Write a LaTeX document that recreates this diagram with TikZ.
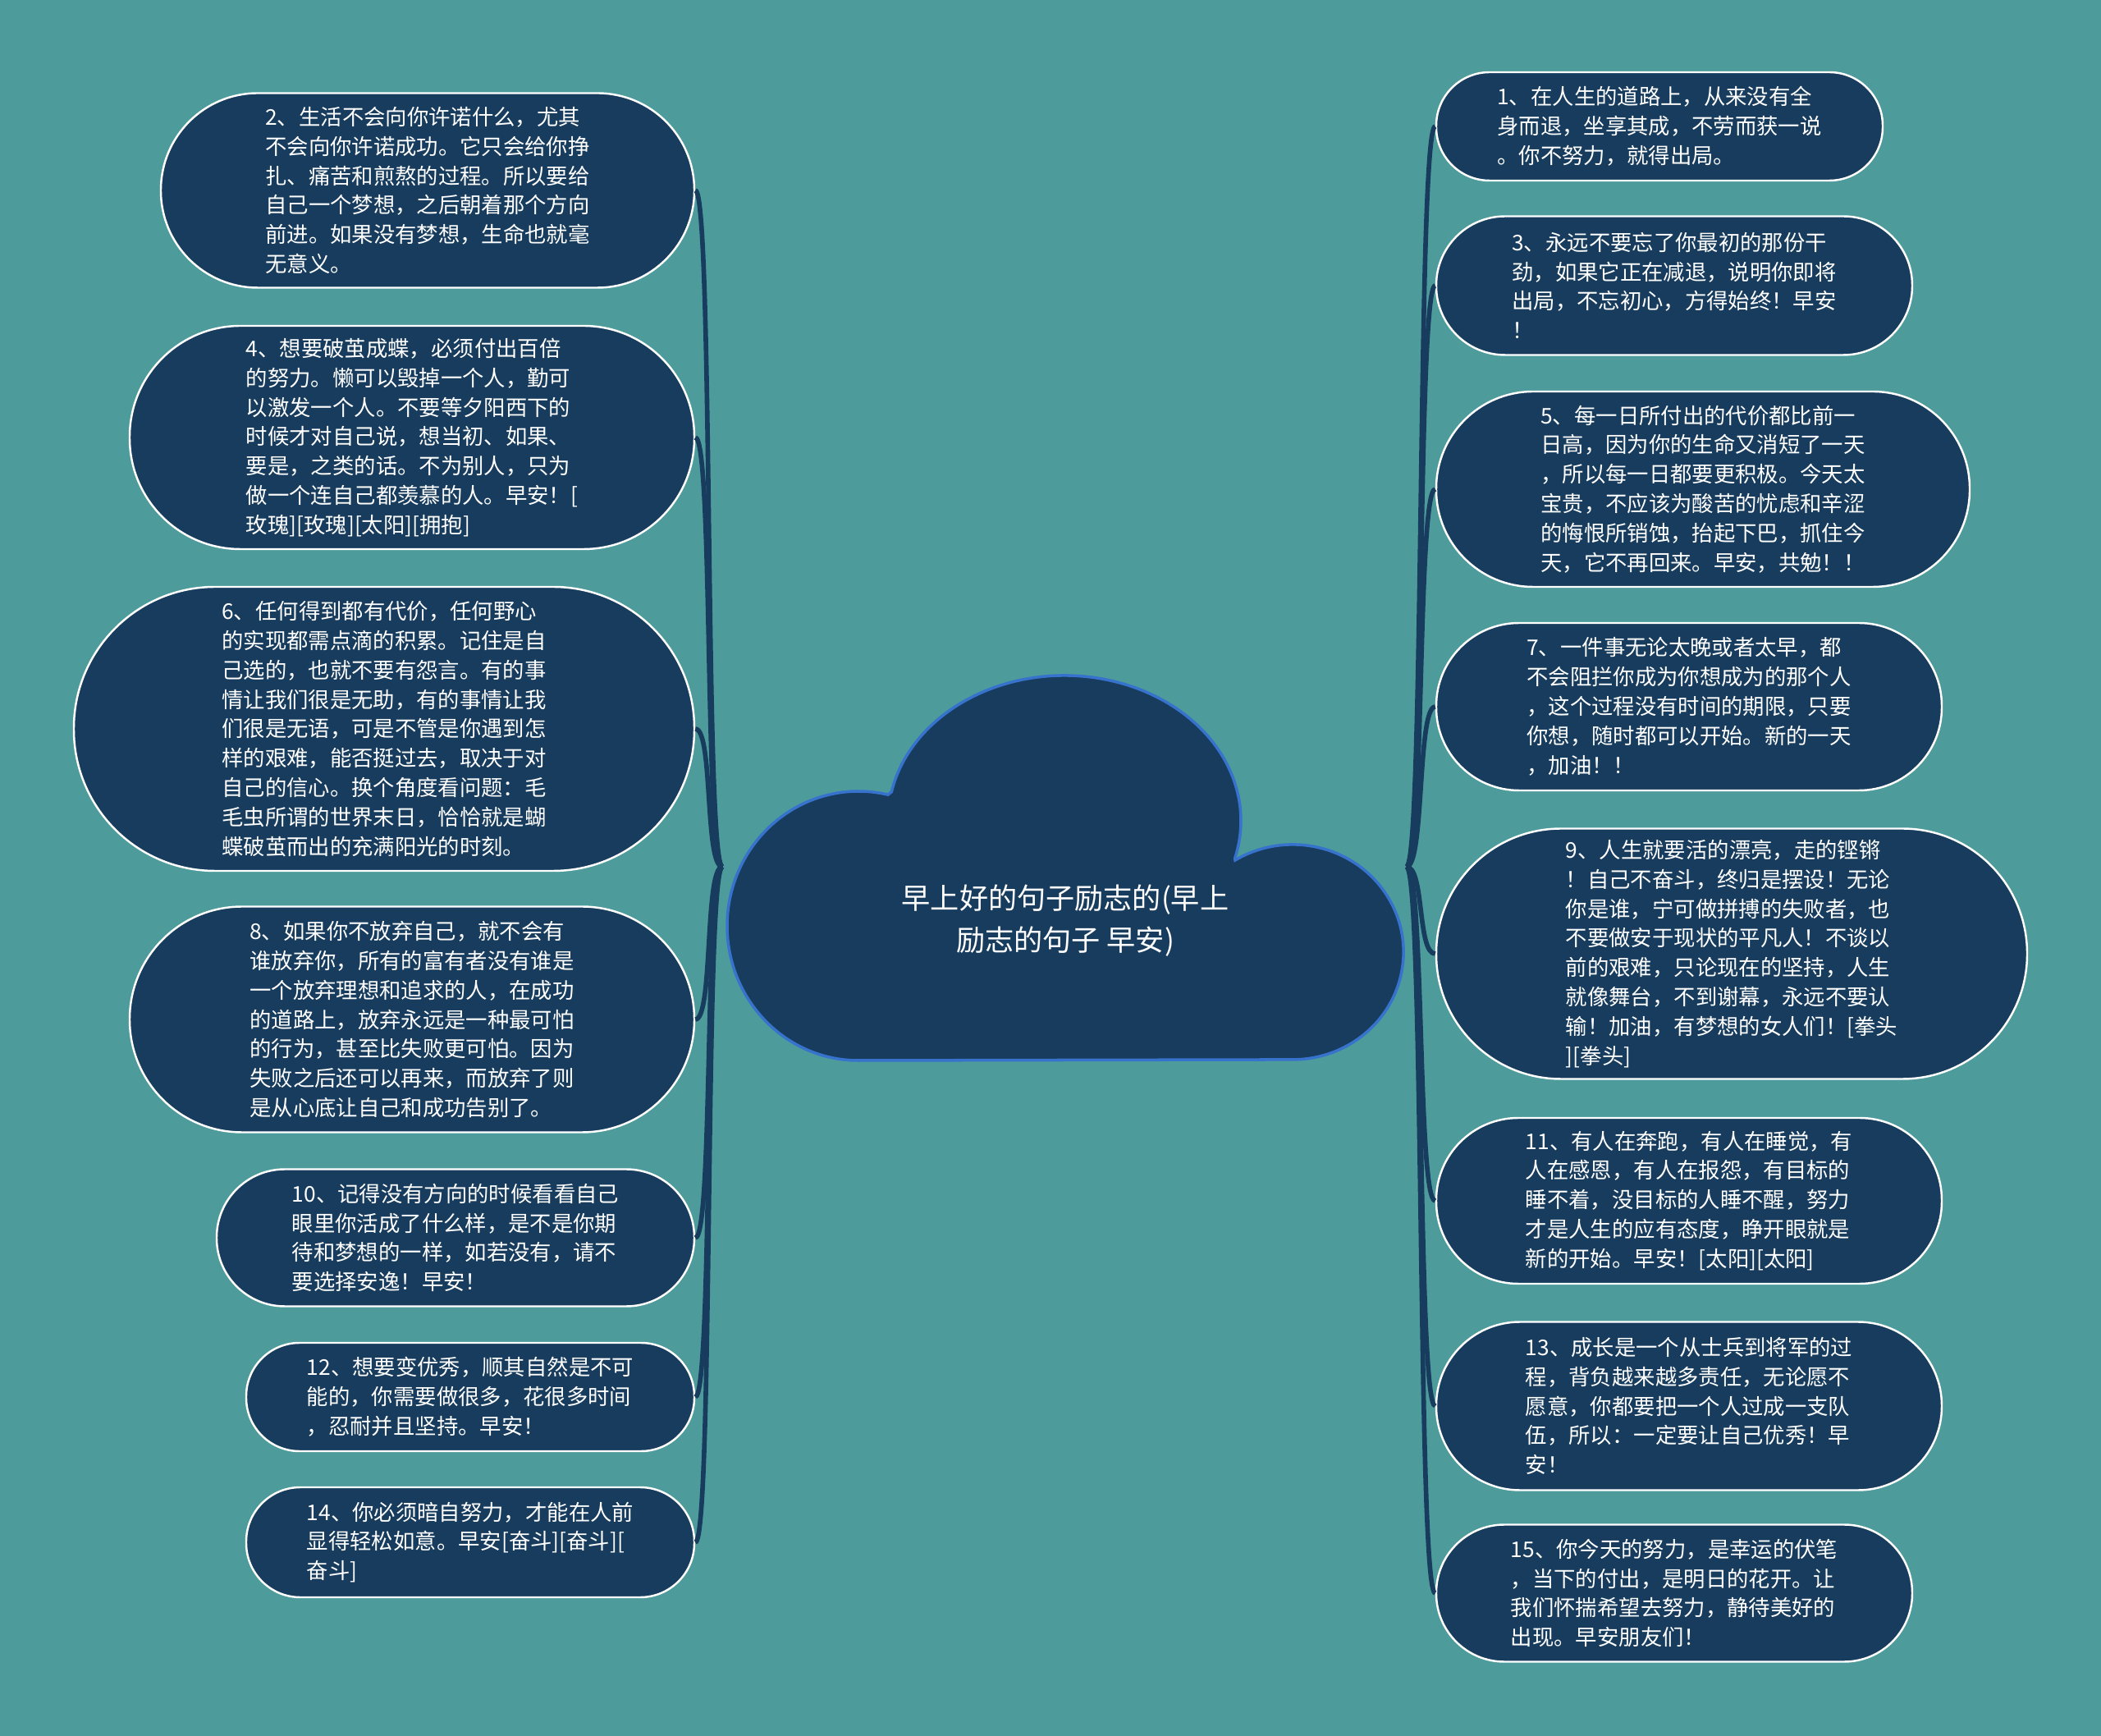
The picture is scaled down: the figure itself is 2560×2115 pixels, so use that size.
\documentclass[tikz,border=0pt]{standalone}
\usepackage{fontspec}
\setmainfont{Noto Sans CJK SC}
\definecolor{bgteal}{RGB}{78,155,155}
\definecolor{navy}{RGB}{23,60,93}
\definecolor{cloudline}{RGB}{55,115,205}
\tikzset{
  box/.style={draw=white, line width=0.7pt, fill=navy, text=white, inner sep=0pt,
    align=left, font={\fontsize{7.5pt}{10.2pt}\selectfont}},
  conn/.style={draw=navy, line width=1.6pt},
}
\begin{document}
\begin{tikzpicture}[x=0.1mm, y=-0.1mm]
\useasboundingbox (0,0) rectangle (2560,2115);
\fill[bgteal] (0,0) rectangle (2560,2115);

% cloud
\filldraw[fill=navy, draw=cloudline, line width=1pt]
  (1046,1292) arc[start angle=90, end angle=283, x radius=160, y radius=164]
  -- (1086.3,964.7) arc[start angle=191.5, end angle=375, x radius=215, y radius=177]
  -- (1505,1048) arc[start angle=238.7, end angle=450, x radius=135, y radius=131]
  -- cycle;
\node[inner sep=0pt, minimum width=83.2mm, minimum height=47.1mm] (root) at (1297,1056) {};
\node[text=white, align=center, font={\fontsize{10pt}{14.5pt}\selectfont}] (roottext) at (1298,1122)
  {早上好的句子励志的(早上\\励志的句子 早安)};

% left nodes
\node[box, minimum width=65.0mm, minimum height=23.7mm, rounded corners=11.8mm] (n2) at (521,232)
{2、生活不会向你许诺什么，尤其\\不会向你许诺成功。它只会给你挣\\扎、痛苦和煎熬的过程。所以要给\\自己一个梦想，之后朝着那个方向\\前进。如果没有梦想，生命也就毫\\无意义。};
\node[box, minimum width=68.8mm, minimum height=27.2mm, rounded corners=13.5mm] (n4) at (502,533)
{4、想要破茧成蝶，必须付出百倍\\的努力。懒可以毁掉一个人，勤可\\以激发一个人。不要等夕阳西下的\\时候才对自己说，想当初、如果、\\要是，之类的话。不为别人，只为\\做一个连自己都羡慕的人。早安！[\\玫瑰][玫瑰][太阳][拥抱]};
\node[box, minimum width=75.6mm, minimum height=34.6mm, rounded corners=17.2mm] (n6) at (468,888)
{6、任何得到都有代价，任何野心\\的实现都需点滴的积累。记住是自\\己选的，也就不要有怨言。有的事\\情让我们很是无助，有的事情让我\\们很是无语，可是不管是你遇到怎\\样的艰难，能否挺过去，取决于对\\自己的信心。换个角度看问题：毛\\毛虫所谓的世界末日，恰恰就是蝴\\蝶破茧而出的充满阳光的时刻。};
\node[box, minimum width=68.8mm, minimum height=27.5mm, rounded corners=13.7mm] (n8) at (502,1242)
{8、如果你不放弃自己，就不会有\\谁放弃你，所有的富有者没有谁是\\一个放弃理想和追求的人，在成功\\的道路上，放弃永远是一种最可怕\\的行为，甚至比失败更可怕。因为\\失败之后还可以再来，而放弃了则\\是从心底让自己和成功告别了。};
\node[box, minimum width=58.2mm, minimum height=16.7mm, rounded corners=8.3mm] (n10) at (555,1508)
{10、记得没有方向的时候看看自己\\眼里你活成了什么样，是不是你期\\待和梦想的一样，如若没有，请不\\要选择安逸！早安！};
\node[box, minimum width=54.6mm, minimum height=13.2mm, rounded corners=6.5mm] (n12) at (573,1702)
{12、想要变优秀，顺其自然是不可\\能的，你需要做很多，花很多时间\\，忍耐并且坚持。早安！};
\node[box, minimum width=54.6mm, minimum height=13.4mm, rounded corners=6.6mm] (n14) at (573,1879)
{14、你必须暗自努力，才能在人前\\显得轻松如意。早安[奋斗][奋斗][\\奋斗]};

% right nodes
\node[box, minimum width=54.4mm, minimum height=13.2mm, rounded corners=6.5mm] (n1) at (2022,154)
{1、在人生的道路上，从来没有全\\身而退，坐享其成，不劳而获一说\\。你不努力，就得出局。};
\node[box, minimum width=58.0mm, minimum height=16.9mm, rounded corners=8.4mm] (n3) at (2040,348)
{3、永远不要忘了你最初的那份干\\劲，如果它正在减退，说明你即将\\出局，不忘初心，方得始终！早安\\！};
\node[box, minimum width=65.0mm, minimum height=23.8mm, rounded corners=11.8mm] (n5) at (2075,596)
{5、每一日所付出的代价都比前一\\日高，因为你的生命又消短了一天\\，所以每一日都要更积极。今天太\\宝贵，不应该为酸苦的忧虑和辛涩\\的悔恨所销蚀，抬起下巴，抓住今\\天，它不再回来。早安，共勉！！};
\node[box, minimum width=61.6mm, minimum height=20.4mm, rounded corners=10.1mm] (n7) at (2058,861)
{7、一件事无论太晚或者太早，都\\不会阻拦你成为你想成为的那个人\\，这个过程没有时间的期限，只要\\你想，随时都可以开始。新的一天\\，加油！！};
\node[box, minimum width=72.0mm, minimum height=30.5mm, rounded corners=15.2mm] (n9) at (2110,1162)
{9、人生就要活的漂亮，走的铿锵\\！自己不奋斗，终归是摆设！无论\\你是谁，宁可做拼搏的失败者，也\\不要做安于现状的平凡人！不谈以\\前的艰难，只论现在的坚持，人生\\就像舞台，不到谢幕，永远不要认\\输！加油，有梦想的女人们！[拳头\\][拳头]};
\node[box, minimum width=61.6mm, minimum height=20.2mm, rounded corners=10.0mm] (n11) at (2058,1463)
{11、有人在奔跑，有人在睡觉，有\\人在感恩，有人在报怨，有目标的\\睡不着，没目标的人睡不醒，努力\\才是人生的应有态度，睁开眼就是\\新的开始。早安！[太阳][太阳]};
\node[box, minimum width=61.6mm, minimum height=20.5mm, rounded corners=10.2mm] (n13) at (2058,1713)
{13、成长是一个从士兵到将军的过\\程，背负越来越多责任，无论愿不\\愿意，你都要把一个人过成一支队\\伍，所以：一定要让自己优秀！早\\安！};
\node[box, minimum width=58.0mm, minimum height=16.7mm, rounded corners=8.3mm] (n15) at (2040,1941)
{15、你今天的努力，是幸运的伏笔\\，当下的付出，是明日的花开。让\\我们怀揣希望去努力，静待美好的\\出现。早安朋友们！};

% connectors
\foreach \n in {n2,n4,n6,n8,n10,n12,n14}
  \draw[conn] (root.west) .. controls +(-22,0) and +(22,0) .. (\n.east);
\foreach \n in {n1,n3,n5,n7,n9,n11,n13,n15}
  \draw[conn] (root.east) .. controls +(22,0) and +(-22,0) .. (\n.west);
\end{tikzpicture}
\end{document}
